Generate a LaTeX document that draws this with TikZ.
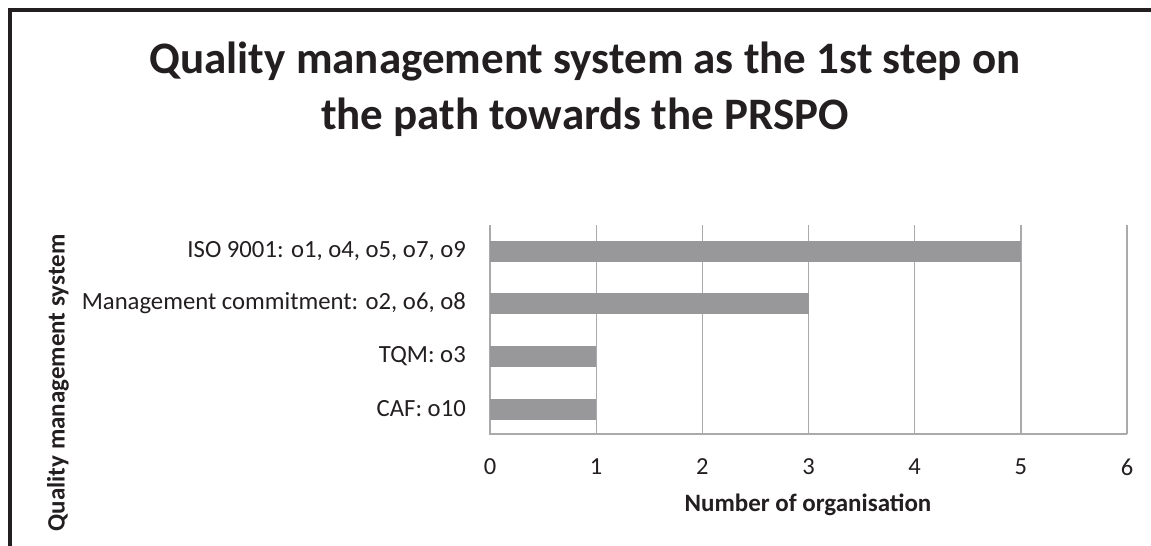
\documentclass[tikz,border=0pt]{standalone}
\usepackage{fontspec}
\setmainfont{Carlito}
\definecolor{frame}{HTML}{231F20}
\definecolor{bargray}{HTML}{98989A}
\definecolor{gridgray}{HTML}{AAAAAA}
\definecolor{txt}{HTML}{231F20}
\begin{document}
\begin{tikzpicture}[x=1pt,y=-1pt,
  cat/.style={anchor=east,inner sep=0pt,font=\fontsize{24.7}{29}\selectfont,text=txt},
  tick/.style={inner sep=0pt,font=\fontsize{24.5}{29}\selectfont,text=txt},
  axtitle/.style={inner sep=0pt,font=\fontsize{25}{30}\selectfont\bfseries,text=txt},
  titlestyle/.style={inner sep=0pt,anchor=base,font=\fontsize{45}{56}\selectfont\bfseries,text=txt},
  gridline/.style={draw=gridgray,line width=1.3pt},
  bar/.style={fill=bargray,draw=none}]
\useasboundingbox (0,0) rectangle (1151,546);
\fill[white] (0,0) rectangle (1151,546);
% frame
\draw[frame,line width=4pt] (10,546) -- (10,10) -- (1151,10);
% title
\node[titlestyle] (title1) at (585,73) {Quality management system as the 1st step on};
\node[titlestyle] (title2) at (585,129) {the path towards the PRSPO};
% grid
\foreach \k in {1,...,6} {
  \draw[gridline] ({490+106.17*\k},225) -- ({490+106.17*\k},434);
}
\draw[gridline] (490,225) -- (490,434) -- (1127,434);
% bars
\fill[bar] (490,241) rectangle ({490+106.17*5},262);
\fill[bar] (490,293) rectangle ({490+106.17*3},314);
\fill[bar] (490,345.5) rectangle ({490+106.17*1},366.5);
\fill[bar] (490,398.5) rectangle ({490+106.17*1},419.5);
% category labels
\node[cat] (c1) at (466,251.5) {ISO 9001: o1, o4, o5, o7, o9};
\node[cat] (c2) at (466,303.5) {Management commitment: o2, o6, o8};
\node[cat] (c3) at (466,356) {TQM: o3};
\node[cat] (c4) at (466,409) {CAF: o10};
% tick labels
\foreach \k in {0,...,6} {
  \node[tick] (t\k) at ({490+106.17*\k},467) {\k};
}
% axis titles
\node[axtitle] (xt) at (808,505) {Number of organisation};
\node[axtitle,rotate=90] (yt) at (58,383) {Quality management system};
\end{tikzpicture}
\end{document}
